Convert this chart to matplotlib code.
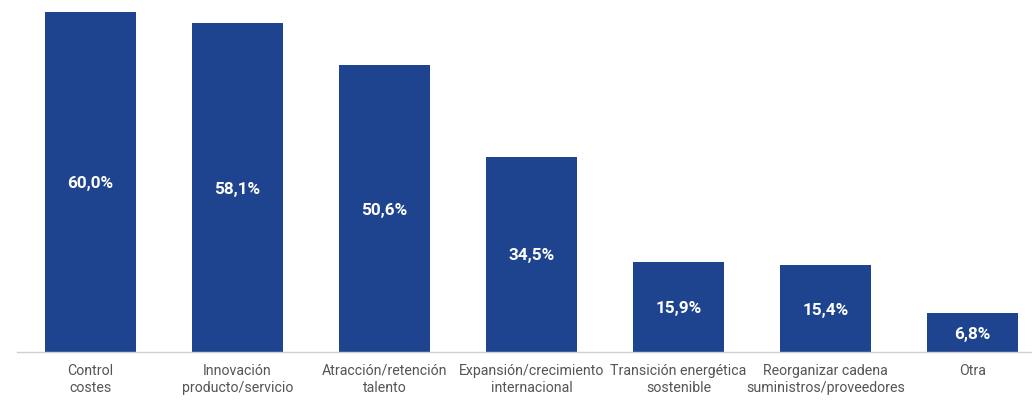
import matplotlib
matplotlib.use("Agg")
import matplotlib.pyplot as plt

categories = ["Control\ncostes", "Innovación\nproducto/servicio", "Atracción/retención\ntalento",
              "Expansión/crecimiento\ninternacional", "Transición energética\nsostenible",
              "Reorganizar cadena\nsuministros/proveedores", "Otra"]
values = [60.0, 58.1, 50.6, 34.5, 15.9, 15.4, 6.8]
labels = ["60,0%", "58,1%", "50,6%", "34,5%", "15,9%", "15,4%", "6,8%"]

plt.rcParams['font.family'] = ['Roboto', 'DejaVu Sans']

W, H = 1032, 409
fig = plt.figure(figsize=(W/100, H/100), dpi=100)
left = 17 / W
bottom = (H - 352) / H
top = (H - 12) / H
ax = fig.add_axes([left, bottom, 1 - left, top - bottom])

x = list(range(len(values)))
ax.bar(x, values, width=0.62, color="#1F448F", zorder=2)
for xi, v, lab in zip(x, values, labels):
    ax.text(xi, v / 2 - 0.3, lab, ha="center", va="center", color="white",
            fontsize=12.3, fontweight="bold")

ax.set_xlim(-0.5, 6.405)
ax.set_ylim(0, 60)
ax.set_xticks(x)
ax.set_xticklabels(categories, fontsize=10.2, color="#555555", linespacing=1.25)
ax.tick_params(axis="x", length=0, pad=8.5)
ax.set_yticks([])
for s in ["top", "right", "left"]:
    ax.spines[s].set_visible(False)
ax.spines["bottom"].set_color("#D0D0D0")
ax.spines["bottom"].set_linewidth(1)

fig.savefig("out.png", dpi=100)
